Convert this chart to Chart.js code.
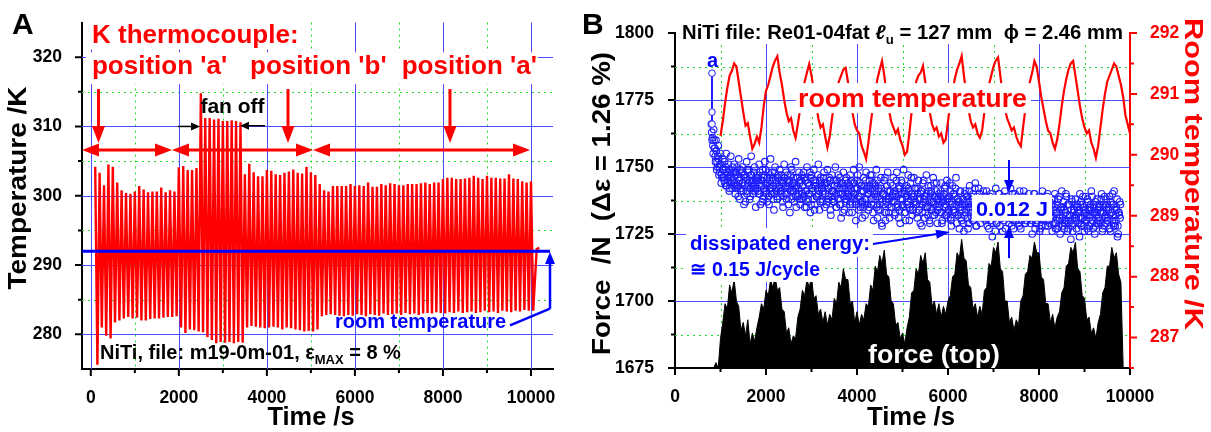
<!DOCTYPE html>
<html><head><meta charset="utf-8">
<script src="https://cdn.jsdelivr.net/npm/chart.js@4.4.0/dist/chart.umd.min.js"></script>
<style>
html,body{margin:0;padding:0;background:#fff;}
#wrap{position:relative;width:1211px;height:432px;overflow:hidden;background:#fff;}
canvas{position:absolute;top:0;}
#cA{left:0;} #cB{left:580px;}
</style></head><body>
<div id="wrap"><canvas id="cA" width="580" height="432"></canvas><canvas id="cB" width="631" height="432"></canvas></div>
<script>
// ================= Panel A data =================
const cycleStepA = 100; // one loading cycle every 100 s
const tempPeaksA = [
 304.2,303.3,301.5,304.5,304.2,301.9,300.8,300.4,300.3,300.6,
 301.4,300.9,300.5,300.6,300.6,301.2,300.5,300.8,300.6,304.1,
 304.3,303.7,303.7,304.0,314.8,311.2,311.2,311.0,311.1,310.8,
 310.8,310.9,310.8,310.6,303.1,304.6,303.4,302.8,302.8,303.7,
 303.6,303.1,303.0,303.3,303.5,303.8,303.3,303.2,304.2,303.4,
 303.0,301.7,300.8,300.6,301.4,301.4,301.4,301.4,301.7,301.4,
 301.5,301.4,301.9,301.3,301.3,301.7,301.5,301.8,301.7,301.5,
 301.5,301.7,301.7,301.7,301.8,301.9,301.7,301.9,301.9,302.4,
 302.6,302.6,302.4,302.4,302.5,302.6,302.9,302.6,302.4,302.9,
 302.6,302.6,302.5,302.5,303.1,302.5,302.4,302.1,301.9,302.1];
const tempTroughsA = [
 275.6,281.0,279.8,279.4,281.7,282.0,282.3,282.5,282.3,282.4,
 282.0,282.0,282.2,282.3,282.3,282.4,282.5,282.5,282.6,281.0,
 280.2,280.7,280.6,280.4,280.3,279.6,279.2,278.7,278.9,278.8,
 278.9,278.7,278.9,278.8,281.0,281.2,281.1,281.0,280.9,281.0,
 281.1,281.0,280.7,281.0,280.9,280.7,280.6,280.4,280.5,280.4,
 280.7,282.6,282.8,282.9,282.8,282.7,282.6,282.8,282.7,282.9,
 282.8,282.6,282.9,282.8,282.7,283.0,282.8,282.9,283.0,282.8,
 283.1,282.9,283.0,282.8,283.0,283.1,283.0,283.2,283.1,283.0,
 283.2,283.1,283.3,283.1,283.2,283.3,283.1,283.2,283.4,283.2,
 283.3,283.1,283.4,283.3,283.2,283.4,283.3,283.5,283.4,283.4];
const tempTailT = [10130, 10190];
const tempTailV = [292.3, 292.5];
const roomLevelA = 292;            // room temperature reference line, K
const roomLineTA = [-200, 10432];  // extent of that line, s
const xTicksA = [0,2000,4000,6000,8000,10000];
const xMinorA = [1000,3000,5000,7000,9000];
const yTicksA = [280,290,300,310,320];
const yMinorA = [285,295,305,315];

// ================= Panel B data =================
const forceT0 = 850, forceStep = 50;
const forceTop = [
 1675,1677,1675,1686,1692,1699,1697,1706,1703,1708,
 1700,1698,1689,1692,1687,1693,1684,1688,1685,1690,
 1694,1699,1697,1704,1702,1708,1705,1709,1704,1705,
 1697,1696,1688,1690,1684,1687,1686,1694,1697,1704,
 1702,1708,1705,1709,1701,1702,1695,1697,1692,1696,
 1691,1695,1693,1701,1699,1707,1705,1712,1708,1708,
 1699,1700,1692,1696,1691,1695,1693,1699,1698,1706,
 1704,1713,1711,1717,1714,1719,1710,1709,1700,1699,
 1691,1692,1686,1688,1684,1690,1694,1703,1704,1712,
 1710,1717,1714,1718,1708,1707,1698,1700,1695,1699,
 1694,1698,1695,1700,1702,1709,1710,1718,1716,1723,
 1716,1715,1706,1705,1697,1699,1694,1698,1695,1704,
 1705,1714,1713,1720,1718,1722,1712,1711,1700,1700,
 1692,1694,1689,1693,1691,1700,1702,1710,1711,1717,
 1716,1722,1718,1718,1709,1708,1699,1699,1692,1695,
 1690,1694,1696,1703,1705,1713,1714,1720,1718,1722,
 1712,1711,1702,1701,1693,1694,1688,1690,1686,1692,
 1695,1703,1705,1713,1713,1720,1716,1718,1710,1707,
 1675];
// dissipated energy cloud, three interleaved passes of readings (25 s apart each)
const cloudT0 = 800, cloudStep = 25;
const dissEnergy1 = [
 1766,1761,1764,1757,1760,1752,1758,1750,1755,1747,1753,1749,1744,1755,1746,1751,1742,1754,1748,1745,
 1751,1740,1748,1743,1753,1738,1746,1750,1741,1747,1737,1752,1744,1749,1739,1754,1745,1742,1750,1735,
 1747,1741,1751,1736,1745,1749,1739,1752,1743,1737,1748,1742,1753,1740,1746,1734,1750,1744,1738,1747,
 1749,1740,1745,1735,1751,1742,1738,1747,1744,1733,1750,1741,1746,1737,1752,1743,1739,1748,1736,1745,
 1740,1748,1735,1745,1750,1738,1743,1733,1747,1741,1749,1736,1744,1739,1751,1734,1746,1742,1737,1748,
 1743,1736,1749,1739,1745,1732,1747,1741,1737,1750,1735,1744,1740,1746,1731,1742,1748,1734,1745,1738,
 1744,1733,1747,1739,1736,1749,1742,1730,1745,1738,1750,1735,1743,1737,1746,1732,1748,1740,1734,1745,
 1741,1747,1733,1744,1738,1749,1731,1742,1736,1746,1728,1740,1745,1730,1737,1748,1733,1741,1735,1743,
 1746,1732,1740,1748,1735,1743,1729,1745,1738,1749,1733,1741,1736,1747,1730,1744,1739,1734,1746,1737,
 1742,1731,1745,1736,1740,1728,1744,1738,1733,1747,1735,1741,1729,1743,1737,1746,1732,1739,1744,1734,
 1740,1733,1744,1730,1738,1742,1735,1745,1731,1737,1741,1728,1743,1734,1739,1746,1732,1737,1727,1741,
 1730,1738,1726,1741,1734,1739,1729,1743,1736,1731,1740,1733,1744,1728,1737,1742,1732,1738,1735,1741,
 1737,1730,1741,1733,1727,1739,1735,1724,1738,1731,1742,1729,1736,1740,1732,1738,1726,1735,1741,1733,
 1739,1731,1736,1742,1728,1737,1733,1740,1730,1738,1735,1741,1727,1736,1732,1739,1729,1737,1734,1740,
 1731,1738,1725,1735,1740,1729,1736,1732,1739,1727,1734,1741,1730,1737,1733,1739,1728,1735,1731,1738,
 1736,1729,1740,1733,1727,1738,1731,1735,1741,1728,1734,1730,1739,1726,1736,1732,1723,1737,1729,1734,
 1738,1727,1735,1731,1740,1729,1736,1733,1726,1739,1732,1737,1728,1734,1741,1730,1736,1725,1733,1738,
 1729,1736,1733,1740,1727,1735,1731,1738,1730,1734,1739,1726,1736,1732,1741,1728,1735,1724,1733,1737];
const dissEnergy2 = [
 1763,1758,1760,1754,1756,1750,1753,1748,1751,1746,1749,1745,1750,1743,1747,1749,1744,1746,1742,1748,
 1744,1748,1742,1746,1745,1749,1741,1744,1747,1743,1746,1740,1748,1745,1742,1747,1743,1745,1741,1746,
 1742,1746,1740,1745,1743,1738,1747,1744,1741,1746,1739,1745,1742,1748,1743,1740,1745,1741,1746,1742,
 1745,1741,1744,1739,1746,1743,1740,1745,1742,1747,1738,1744,1741,1743,1739,1746,1742,1738,1745,1741,
 1743,1739,1745,1741,1737,1744,1740,1746,1742,1738,1743,1745,1739,1742,1740,1745,1738,1743,1741,1744,
 1740,1744,1738,1742,1745,1739,1741,1737,1743,1740,1745,1738,1742,1736,1744,1740,1739,1743,1737,1742,
 1739,1743,1737,1741,1744,1738,1740,1736,1742,1739,1744,1737,1741,1735,1743,1738,1742,1736,1740,1743,
 1738,1742,1736,1740,1743,1735,1739,1741,1734,1742,1737,1740,1733,1739,1743,1736,1738,1741,1735,1739,
 1737,1741,1735,1739,1742,1734,1738,1740,1736,1741,1733,1739,1736,1742,1735,1738,1740,1734,1739,1737,
 1736,1740,1734,1738,1741,1733,1737,1739,1735,1740,1732,1738,1735,1741,1734,1737,1739,1733,1738,1736,
 1735,1739,1733,1737,1740,1732,1736,1738,1734,1739,1731,1737,1734,1740,1733,1736,1738,1732,1737,1735,
 1734,1738,1732,1736,1739,1731,1735,1737,1733,1738,1730,1736,1733,1739,1732,1735,1737,1731,1736,1734,
 1733,1737,1731,1735,1738,1730,1734,1736,1732,1737,1729,1735,1732,1738,1731,1734,1736,1730,1735,1733,
 1734,1736,1731,1735,1738,1730,1733,1737,1732,1736,1729,1735,1733,1738,1731,1734,1737,1730,1735,1732,
 1732,1736,1730,1734,1737,1729,1733,1735,1731,1736,1728,1734,1731,1737,1730,1733,1735,1729,1734,1732,
 1731,1735,1729,1733,1736,1728,1732,1734,1730,1735,1727,1733,1730,1736,1729,1732,1734,1728,1733,1731,
 1732,1735,1729,1734,1736,1728,1731,1735,1730,1733,1727,1734,1731,1736,1729,1733,1735,1728,1732,1730,
 1731,1735,1729,1733,1736,1728,1732,1734,1730,1735,1727,1733,1730,1736,1729,1732,1734,1728,1733,1731];
const dissEnergy3 = [
 1760,1755,1757,1752,1749,1754,1747,1751,1744,1749,1746,1752,1743,1748,1745,1741,1747,1744,1750,1743,
 1747,1743,1750,1739,1745,1742,1748,1744,1736,1746,1741,1749,1743,1738,1747,1744,1740,1748,1742,1745,
 1745,1740,1748,1743,1737,1746,1742,1749,1740,1744,1736,1747,1741,1745,1738,1748,1742,1739,1746,1743,
 1741,1747,1737,1744,1740,1748,1743,1736,1745,1741,1749,1739,1744,1742,1735,1746,1740,1744,1738,1747,
 1738,1746,1741,1735,1744,1740,1748,1736,1742,1745,1734,1743,1739,1747,1741,1737,1744,1740,1746,1735,
 1744,1737,1742,1746,1734,1741,1738,1745,1739,1735,1743,1747,1736,1740,1744,1733,1742,1738,1746,1740,
 1741,1736,1745,1733,1740,1744,1737,1742,1747,1734,1739,1743,1731,1741,1736,1745,1738,1742,1735,1747,
 1736,1744,1730,1741,1739,1745,1734,1738,1743,1729,1740,1736,1746,1733,1741,1738,1731,1744,1737,1740,
 1739,1733,1745,1736,1731,1742,1738,1744,1735,1740,1730,1743,1737,1741,1734,1746,1732,1739,1742,1736,
 1733,1742,1738,1729,1741,1736,1745,1731,1739,1735,1743,1730,1740,1737,1732,1744,1736,1741,1729,1738,
 1737,1741,1729,1739,1735,1743,1732,1738,1734,1744,1730,1736,1740,1733,1742,1729,1738,1735,1741,1731,
 1736,1729,1740,1733,1737,1727,1741,1734,1739,1730,1736,1742,1728,1738,1733,1740,1729,1736,1732,1739,
 1731,1739,1728,1736,1733,1740,1729,1737,1734,1726,1738,1732,1740,1728,1735,1731,1739,1733,1727,1737,
 1735,1729,1738,1732,1740,1727,1736,1731,1739,1733,1728,1737,1730,1735,1741,1729,1734,1738,1731,1736,
 1729,1737,1732,1740,1727,1735,1730,1738,1726,1734,1739,1731,1736,1728,1733,1740,1730,1737,1732,1726,
 1734,1738,1727,1733,1730,1739,1725,1735,1731,1737,1729,1740,1732,1727,1736,1730,1738,1726,1734,1731,
 1730,1736,1733,1724,1737,1731,1739,1728,1734,1730,1738,1726,1735,1732,1739,1727,1733,1737,1729,1734,
 1735,1730,1738,1726,1733,1739,1729,1736,1731,1727,1737,1733,1740,1728,1734,1730,1738,1725,1732,1736];
const cloudOffsets = [0, 8, 16];
const pointAT = [813, 813, 813];
const pointAV = [1785, 1770.5, 1766];
const roomT0 = 1000, roomStep = 50;
const roomTempB = [
 290.31,290.55,290.85,291.1,291.3,291.38,291.5,291.45,291.2,290.95,
 290.7,290.48,290.52,290.3,290.1,290.18,290.3,290.2,290.45,290.8,
 291.05,291.15,291.3,291.45,291.55,291.62,291.35,291.15,290.9,290.7,
 290.55,290.6,290.4,290.28,290.5,290.75,291.0,291.2,291.35,291.49,
 291.3,291.05,290.85,290.6,290.45,290.5,290.3,290.12,290.3,290.6,
 290.85,291.05,291.2,291.3,291.4,291.43,291.2,290.95,290.7,290.5,
 290.4,290.35,290.15,290.05,289.93,290.2,290.5,290.8,291.05,291.25,
 291.4,291.54,291.3,291.0,290.75,290.55,290.45,290.35,290.42,290.25,
 290.15,290.0,290.05,290.35,290.7,291.0,291.2,291.3,291.35,291.46,
 291.2,290.95,290.7,290.5,290.4,290.45,290.3,290.35,290.2,290.25,
 290.55,290.85,291.05,291.25,291.4,291.5,291.62,291.3,291.0,290.75,
 290.55,290.45,290.5,290.35,290.28,290.4,290.7,290.95,291.15,291.3,
 291.45,291.55,291.6,291.3,291.0,290.75,290.6,290.5,290.4,290.45,
 290.3,290.2,290.14,290.45,290.75,291.0,291.2,291.35,291.54,291.45,
 291.2,290.95,290.75,290.55,290.4,290.35,290.2,290.1,290.25,290.5,
 290.8,291.05,291.25,291.4,291.5,291.54,291.3,291.05,290.8,290.6,
 290.45,290.35,290.4,290.2,290.1,289.95,290.15,290.45,290.75,291.0,
 291.2,291.3,291.4,291.5,291.45,291.3,291.15,290.95,290.65,290.5,
 290.35];
const xTicksB = [0,2000,4000,6000,8000,10000];
const xMinorB = [1000,3000,5000,7000,9000];
const yTicksB = [1675,1700,1725,1750,1775,1800];
const yMinorB = [1687.5,1712.5,1737.5,1762.5,1787.5];
const y2TicksB = [287,288,289,290,291,292];
const y2MinorB = [286.5,287.5,288.5,289.5,290.5,291.5];

// ================= helpers =================
const FAM = '"Liberation Sans", Arial, Helvetica, sans-serif';
const RED = '#ff0000', BLUE = '#0000ff', GRIDB = '#4b4bff', GRIDG = '#22dd22';
function fnt(size, italic) { return (italic ? 'italic ' : '') + 'bold ' + size + 'px ' + FAM; }
function txt(ctx, s, x, y, o) {
  ctx.save();
  ctx.font = fnt(o.size, o.italic);
  ctx.fillStyle = o.color || '#000';
  ctx.textBaseline = o.baseline || 'alphabetic';
  ctx.textAlign = 'left';
  const w = ctx.measureText(s).width;
  const sx = o.fitW ? o.fitW / w : 1;
  ctx.translate(x, y);
  if (o.rot) ctx.rotate(o.rot);
  ctx.scale(sx, 1);
  let ox = 0;
  if (o.align === 'center') ox = -w / 2; else if (o.align === 'right') ox = -w;
  ctx.fillText(s, ox, 0);
  ctx.restore();
}
function rich(ctx, segs, x, y, color, fitW) {
  ctx.save();
  let total = 0;
  for (const s of segs) { ctx.font = fnt(s.size, s.italic); s.w = ctx.measureText(s.t).width; total += s.w; }
  const sx = fitW ? fitW / total : 1;
  ctx.translate(x, y); ctx.scale(sx, 1);
  ctx.fillStyle = color; ctx.textBaseline = 'alphabetic'; ctx.textAlign = 'left';
  let cx = 0;
  for (const s of segs) { ctx.font = fnt(s.size, s.italic); ctx.fillText(s.t, cx, s.dy || 0); cx += s.w; }
  ctx.restore();
}
function head(ctx, x, y, a, hl, hw) {
  const c = Math.cos(a), s = Math.sin(a);
  ctx.beginPath();
  ctx.moveTo(x, y);
  ctx.lineTo(x - hl * c + hw * s, y - hl * s - hw * c);
  ctx.lineTo(x - hl * c - hw * s, y - hl * s + hw * c);
  ctx.closePath(); ctx.fill();
}
function arrow(ctx, x1, y1, x2, y2, o) {
  ctx.save();
  ctx.strokeStyle = o.color; ctx.fillStyle = o.color; ctx.lineWidth = o.lw; ctx.lineCap = 'butt';
  const a = Math.atan2(y2 - y1, x2 - x1), c = Math.cos(a), s = Math.sin(a);
  const k = o.hl * 0.7;
  ctx.beginPath();
  ctx.moveTo(o.both ? x1 + c * k : x1, o.both ? y1 + s * k : y1);
  ctx.lineTo(x2 - c * k, y2 - s * k);
  ctx.stroke();
  head(ctx, x2, y2, a, o.hl, o.hw);
  if (o.both) head(ctx, x1, y1, a + Math.PI, o.hl, o.hw);
  ctx.restore();
}
function box(ctx, x1, y1, x2, y2) {
  ctx.save(); ctx.fillStyle = '#fff';
  ctx.fillRect(Math.min(x1, x2), Math.min(y1, y2), Math.abs(x2 - x1), Math.abs(y2 - y1));
  ctx.restore();
}
function drawGrid(chart, xs, ys, xMaj, xMin, yMaj, yMin) {
  const ctx = chart.ctx, a = chart.chartArea;
  ctx.save();
  ctx.lineWidth = 1;
  ctx.strokeStyle = GRIDG; ctx.setLineDash([2, 4]);
  ctx.beginPath();
  xMin.forEach(v => { const p = Math.round(xs.getPixelForValue(v)) + 0.5; ctx.moveTo(p, a.top); ctx.lineTo(p, a.bottom); });
  yMin.forEach(v => { const p = Math.round(ys.getPixelForValue(v)) + 0.5; ctx.moveTo(a.left, p); ctx.lineTo(a.right, p); });
  ctx.stroke();
  ctx.setLineDash([]); ctx.strokeStyle = GRIDB;
  ctx.beginPath();
  xMaj.forEach(v => { const p = Math.round(xs.getPixelForValue(v)) + 0.5; ctx.moveTo(p, a.top); ctx.lineTo(p, a.bottom); });
  yMaj.forEach(v => { const p = Math.round(ys.getPixelForValue(v)) + 0.5; ctx.moveTo(a.left, p); ctx.lineTo(a.right, p); });
  ctx.stroke();
  ctx.restore();
}
function tickMarks(ctx, scale, vals, len, side, pos, color) {
  ctx.save(); ctx.strokeStyle = color; ctx.lineWidth = 2;
  ctx.beginPath();
  vals.forEach(v => {
    const p = scale.getPixelForValue(v);
    if (side === 'bottom') { ctx.moveTo(p, pos); ctx.lineTo(p, pos + len); }
    else if (side === 'left') { ctx.moveTo(pos, p); ctx.lineTo(pos - len, p); }
    else { ctx.moveTo(pos, p); ctx.lineTo(pos + len, p); }
  });
  ctx.stroke(); ctx.restore();
}
const tickFont = { family: FAM, size: 17.5, weight: 'bold' };

// ================= Chart A =================
const tempA = [];
tempPeaksA.forEach((p, i) => {
  const t = (i + 1) * cycleStepA;
  tempA.push({ x: t, y: p });
  tempA.push({ x: t + cycleStepA / 2, y: tempTroughsA[i] });
});
tempTailT.forEach((t, i) => tempA.push({ x: t, y: tempTailV[i] }));
const roomLineA = roomLineTA.map(t => ({ x: t, y: roomLevelA }));

const plugA = {
  id: 'plugA',
  beforeDatasetsDraw(chart) {
    drawGrid(chart, chart.scales.x, chart.scales.y, xTicksA, xMinorA, yTicksA, yMinorA);
  },
  afterDatasetsDraw(chart) {
    const ctx = chart.ctx, xs = chart.scales.x, ys = chart.scales.y;
    const X = v => xs.getPixelForValue(v), Y = v => ys.getPixelForValue(v);
    box(ctx, X(-109), Y(325.3), X(4752), Y(321.1));
    box(ctx, X(-109), Y(320.7), X(10159), Y(316.1));
    txt(ctx, 'K thermocouple:', X(27), Y(322.0), { size: 26, color: RED });
    txt(ctx, "position 'a'", X(27), Y(317.5), { size: 26, color: RED });
    txt(ctx, "position 'b'", X(3617), Y(317.5), { size: 26, color: RED });
    txt(ctx, "position 'a'", X(7063), Y(317.5), { size: 26, color: RED });
    [175, 4480, 8160].forEach(t => arrow(ctx, X(t), Y(315.4), X(t), Y(307.6), { color: RED, lw: 3, hl: 17, hw: 6.5 }));
    [[-200, 1845], [1845, 5048], [5048, 9977]].forEach(s =>
      arrow(ctx, X(s[0]), Y(306.6), X(s[1]), Y(306.6), { color: RED, lw: 3, hl: 17, hw: 6.5, both: true }));
    txt(ctx, 'fan off', X(3219), Y(312.0), { size: 21, color: '#000', align: 'center' });
    arrow(ctx, X(1981), Y(310.0), X(2481), Y(310.0), { color: '#000', lw: 1.5, hl: 9, hw: 4 });
    arrow(ctx, X(3957), Y(310.1), X(3389), Y(310.1), { color: '#000', lw: 1.5, hl: 9, hw: 4 });
    txt(ctx, 'room temperature', X(5548), Y(280.9), { size: 20, color: BLUE });
    ctx.save(); ctx.strokeStyle = BLUE; ctx.lineWidth = 2.5;
    ctx.beginPath(); ctx.moveTo(X(9523), Y(281.3)); ctx.lineTo(X(10432), Y(283.7)); ctx.stroke(); ctx.restore();
    arrow(ctx, X(10432), Y(283.7), X(10432), Y(291.9), { color: BLUE, lw: 2.5, hl: 12, hw: 5 });
    rich(ctx, [{ t: 'NiTi, file: m19-0m-01, \u03b5', size: 20 }, { t: 'MAX', size: 13, dy: 5 }, { t: ' = 8 %', size: 20 }],
      X(209), Y(276.4), '#000');
  },
  afterDraw(chart) {
    const ctx = chart.ctx, a = chart.chartArea, xs = chart.scales.x, ys = chart.scales.y;
    tickMarks(ctx, xs, xTicksA, 7, 'bottom', a.bottom, '#000');
    tickMarks(ctx, xs, xMinorA, 4, 'bottom', a.bottom, '#000');
    tickMarks(ctx, ys, yTicksA, 7, 'left', a.left, '#000');
    tickMarks(ctx, ys, yMinorA, 4, 'left', a.left, '#000');
    txt(ctx, 'A', 12, 34, { size: 30, color: '#000' });
    txt(ctx, 'Time /s', 311, 425, { size: 26, color: '#000', align: 'center', fitW: 87 });
    txt(ctx, 'Temperature /K', 19, 188, { size: 26, color: '#000', align: 'center', baseline: 'middle', rot: -Math.PI / 2, fitW: 203 });
  }
};

new Chart(document.getElementById('cA'), {
  type: 'line',
  data: {
    datasets: [
      { label: 'room temperature', data: roomLineA, borderColor: BLUE, borderWidth: 3, pointRadius: 0, order: 0 },
      { label: 'temperature', data: tempA, borderColor: RED, borderWidth: 2.4, pointRadius: 0, order: 1 }
    ]
  },
  options: {
    responsive: false, animation: false, devicePixelRatio: 1,
    layout: { padding: { left: 0, right: 27, top: 19, bottom: 0 } },
    plugins: { legend: { display: false }, tooltip: { enabled: false } },
    elements: { line: { tension: 0 } },
    scales: {
      x: {
        type: 'linear', min: -200, max: 10500,
        grid: { display: false }, border: { display: true, color: '#000', width: 2 },
        ticks: { font: tickFont, color: '#000', padding: 11, autoSkip: false, maxRotation: 0, callback: v => String(v) },
        afterBuildTicks: s => { s.ticks = xTicksA.map(v => ({ value: v })); },
        afterFit: s => { s.height = 63; }
      },
      y: {
        type: 'linear', min: 275, max: 325,
        grid: { display: false }, border: { display: true, color: '#000', width: 2 },
        ticks: { font: tickFont, color: '#000', padding: 12, autoSkip: false, callback: v => String(v) },
        afterBuildTicks: s => { s.ticks = yTicksA.map(v => ({ value: v })); },
        afterFit: s => { s.width = 82; }
      }
    }
  },
  plugins: [plugA]
});

// ================= Chart B =================
const forceData = forceTop.map((v, i) => ({ x: forceT0 + i * forceStep, y: v }));
const cloudData = [];
[dissEnergy1, dissEnergy2, dissEnergy3].forEach((arr, k) =>
  arr.forEach((v, i) => cloudData.push({ x: cloudT0 + cloudOffsets[k] + i * cloudStep, y: v })));
const pointAData = pointAT.map((t, i) => ({ x: t, y: pointAV[i] }));
const roomData = roomTempB.map((v, i) => ({ x: roomT0 + i * roomStep, y: v }));

const plugB = {
  id: 'plugB',
  beforeDatasetsDraw(chart) {
    drawGrid(chart, chart.scales.x, chart.scales.y, [2000, 4000, 6000, 8000], xMinorB, [1700, 1725, 1750, 1775], yMinorB);
  },
  afterDatasetsDraw(chart) {
    const ctx = chart.ctx, xs = chart.scales.x, ys = chart.scales.y;
    const X = v => xs.getPixelForValue(v), Y = v => ys.getPixelForValue(v);
    box(ctx, X(88), Y(1806), X(9934), Y(1795.9));
    box(ctx, X(2659), Y(1781.3), X(7824), Y(1770.1));
    box(ctx, X(242), Y(1727.2), X(4352), Y(1716.4));
    box(ctx, X(242), Y(1716.4), X(3231), Y(1707.1));
    box(ctx, X(6527), Y(1739.6), X(8286), Y(1729.9));
    rich(ctx, [{ t: 'NiTi file: Re01-04fat ', size: 20 }, { t: '\u2113', size: 20, italic: true }, { t: 'u', size: 13, dy: 5 },
      { t: ' = 127 mm  \u03d5 = 2.46 mm', size: 20 }], X(154), Y(1797.6), '#000', 441);
    txt(ctx, 'a', X(703), Y(1787.3), { size: 20, color: BLUE });
    txt(ctx, 'room temperature', X(2703), Y(1772.4), { size: 26, color: RED, fitW: 229 });
    txt(ctx, 'dissipated energy:', X(330), Y(1719.0), { size: 20, color: BLUE, fitW: 180 });
    txt(ctx, '\u2245 0.15 J/cycle', X(330), Y(1709.3), { size: 20, color: BLUE, fitW: 130 });
    arrow(ctx, X(4352), Y(1721.3), X(6044), Y(1725.7), { color: BLUE, lw: 2, hl: 14, hw: 4.5 });
    txt(ctx, '0.012 J', X(7407), Y(1731.7), { size: 20, color: BLUE, align: 'center', fitW: 72 });
    arrow(ctx, X(7341), Y(1752.6), X(7341), Y(1740.7), { color: BLUE, lw: 2, hl: 12, hw: 5 });
    arrow(ctx, X(7341), Y(1716.0), X(7341), Y(1728.0), { color: BLUE, lw: 2, hl: 12, hw: 5 });
    txt(ctx, 'force (top)', X(4242), Y(1676.9), { size: 26, color: '#fff', fitW: 132 });
  },
  afterDraw(chart) {
    const ctx = chart.ctx, a = chart.chartArea, xs = chart.scales.x, ys = chart.scales.y, y2 = chart.scales.y2;
    tickMarks(ctx, xs, xTicksB, 7, 'bottom', a.bottom, '#000');
    tickMarks(ctx, xs, xMinorB, 4, 'bottom', a.bottom, '#000');
    tickMarks(ctx, ys, yTicksB, 7, 'left', a.left, '#000');
    tickMarks(ctx, ys, yMinorB, 4, 'left', a.left, '#000');
    tickMarks(ctx, y2, y2TicksB, 7, 'right', a.right, RED);
    tickMarks(ctx, y2, y2MinorB, 4, 'right', a.right, RED);
    txt(ctx, 'B', 2, 34, { size: 30, color: '#000' });
    txt(ctx, 'Time /s', 331, 425, { size: 26, color: '#000', align: 'center', fitW: 88 });
    txt(ctx, 'Force  /N  (\u0394\u03b5 = 1.26 %)', 23, 203.5, { size: 26, color: '#000', align: 'center', baseline: 'middle', rot: -Math.PI / 2, fitW: 303 });
    txt(ctx, 'Room temperature /K', 612, 174, { size: 25, color: RED, align: 'center', baseline: 'middle', rot: Math.PI / 2, fitW: 312 });
  }
};

new Chart(document.getElementById('cB'), {
  type: 'line',
  data: {
    datasets: [
      { label: 'room temperature', data: roomData, yAxisID: 'y2', borderColor: RED, borderWidth: 2.2, pointRadius: 0, order: 0 },
      { label: 'a', data: pointAData, yAxisID: 'y', borderColor: BLUE, borderWidth: 1, pointRadius: 3.3,
        pointBorderColor: '#2020ff', pointBackgroundColor: '#fff', pointBorderWidth: 1, order: 1 },
      { label: 'dissipated energy', data: cloudData, yAxisID: 'y', showLine: false, pointRadius: 3.3,
        pointBorderColor: '#1e1eff', pointBackgroundColor: 'rgba(255,255,255,0)', pointBorderWidth: 1.1, order: 2 },
      { label: 'force (top)', data: forceData, yAxisID: 'y', borderColor: '#000', borderWidth: 1, backgroundColor: '#000',
        fill: 'start', pointRadius: 0, order: 3 }
    ]
  },
  options: {
    responsive: false, animation: false, devicePixelRatio: 1,
    layout: { padding: { left: 0, right: 0, top: 33, bottom: 0 } },
    plugins: { legend: { display: false }, tooltip: { enabled: false } },
    elements: { line: { tension: 0 } },
    scales: {
      x: {
        type: 'linear', min: 0, max: 10000,
        grid: { display: false }, border: { display: true, color: '#000', width: 2 },
        ticks: { font: tickFont, color: '#000', padding: 11, autoSkip: false, maxRotation: 0, callback: v => String(v) },
        afterBuildTicks: s => { s.ticks = xTicksB.map(v => ({ value: v })); },
        afterFit: s => { s.height = 64; }
      },
      y: {
        type: 'linear', position: 'left', min: 1675, max: 1800,
        grid: { display: false }, border: { display: true, color: '#000', width: 2 },
        ticks: { font: tickFont, color: '#000', padding: 13, autoSkip: false, callback: v => String(v) },
        afterBuildTicks: s => { s.ticks = yTicksB.map(v => ({ value: v })); },
        afterFit: s => { s.width = 95; }
      },
      y2: {
        type: 'linear', position: 'right', min: 286.5, max: 292,
        grid: { display: false }, border: { display: true, color: RED, width: 2 },
        ticks: { font: tickFont, color: RED, padding: 12, autoSkip: false, callback: v => String(v) },
        afterBuildTicks: s => { s.ticks = y2TicksB.map(v => ({ value: v })); },
        afterFit: s => { s.width = 81; }
      }
    }
  },
  plugins: [plugB]
});
</script>
</body></html>
